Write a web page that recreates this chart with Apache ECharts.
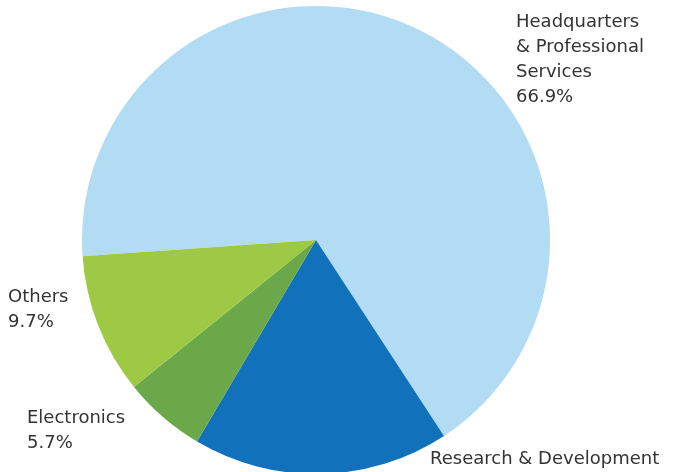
<!DOCTYPE html>
<html>
<head>
<meta charset="utf-8">
<script src="https://cdn.jsdelivr.net/npm/echarts@6/dist/echarts.min.js"></script>
<style>
html,body{margin:0;padding:0;background:#fff;}
#chart{width:677px;height:472px;}
</style>
</head>
<body>
<div id="chart"></div>
<script>
// Data
const categories = ['Headquarters & Professional Services', 'Research & Development', 'Electronics', 'Others'];
const labelNames = ['Headquarters\n& Professional\nServices', 'Research & Development', 'Electronics', 'Others'];
const values = [66.9, 17.7, 5.7, 9.7];
const showPercent = [true, false, true, true];
const colors = ['#b1dcf3', '#1171bb', '#6aa84a', '#9dc944'];

// Label anchor positions (top-left of label block)
const labelPos = [[516, 10], [430, 447], [27, 406], [8, 285]];

const chart = echarts.init(document.getElementById('chart'));
chart.setOption({
  animation: false,
  series: [{
    type: 'pie',
    center: [316, 240],
    radius: 234,
    startAngle: 184,
    clockwise: true,
    silent: true,
    data: categories.map((c, i) => ({ name: c, value: values[i], itemStyle: { color: colors[i] } })),
    label: {
      show: true,
      position: 'outside',
      color: '#333',
      fontFamily: 'DejaVu Sans',
      fontSize: 18,
      lineHeight: 25,
      overflow: 'none',
      formatter: p => labelNames[p.dataIndex] + (showPercent[p.dataIndex] ? '\n' + values[p.dataIndex].toFixed(1) + '%' : '')
    },
    labelLine: { show: false },
    labelLayout: p => ({
      x: labelPos[p.dataIndex][0],
      y: labelPos[p.dataIndex][1],
      align: 'left',
      verticalAlign: 'top',
      width: 300
    })
  }]
});
</script>
</body>
</html>
